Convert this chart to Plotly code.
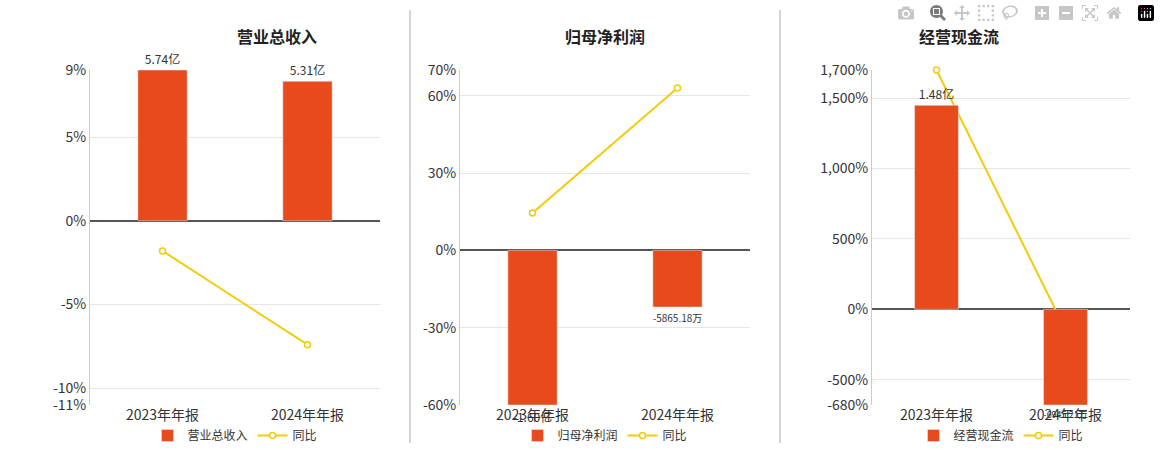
import plotly.graph_objects as go

cats = ["2023年年报", "2024年年报"]
titles = ["营业总收入", "归母净利润", "经营现金流"]
bar_vals = [[5.74, 5.31], [-1.60, -0.586518], [1.48, -0.694521]]  # 亿
bar_text = [["5.74亿", "5.31亿"], ["-1.60亿", "-5865.18万"], ["1.48亿", "-6945.21万"]]
yoy = [[-1.8, -7.4], [14.5, 63.0], [1700.0, -145.0]]
pct_ranges = [[-11, 9], [-60, 70], [-680, 1700]]
tickvals = [[-11, -10, -5, 0, 5, 9], [-60, -30, 0, 30, 60, 70], [-680, -500, 0, 500, 1000, 1500, 1700]]

BAR = "#E84A1B"
LINE = "#F2CC0C"
W, H = 1160, 450
xdom = [(90, 380), (460, 750), (872, 1130)]
ydom = [(450 - 405) / H, (450 - 70) / H]

fig = go.Figure()
lay = {}
for i in range(3):
    n = i + 1
    xa = "x" if n == 1 else f"x{n}"
    ya = "y" if n == 1 else f"y{2*n-1}"
    yb = f"y{2*n}"
    lg = "legend" if n == 1 else f"legend{n}"
    lo, hi = pct_ranges[i]
    bmax = max(bar_vals[i]); bmin = min(bar_vals[i])
    if bmax > 0 and (bmin >= 0 or bmax / hi >= bmin / lo):
        s = bmax / hi
    else:
        s = bmin / lo
    fig.add_trace(go.Bar(x=cats, y=bar_vals[i], name=titles[i], marker_color=BAR, width=0.34,
                         text=bar_text[i], textposition="outside", cliponaxis=False,
                         textfont=dict(size=12, color="#333"),
                         xaxis=xa, yaxis=yb, legend=lg))
    fig.add_trace(go.Scatter(x=cats, y=yoy[i], name="同比", mode="lines+markers",
                             line=dict(color=LINE, width=2),
                             marker=dict(size=6, color="white", line=dict(color=LINE, width=1.5)),
                             xaxis=xa, yaxis=ya, legend=lg, cliponaxis=False))
    d = [xdom[i][0] / W, xdom[i][1] / W]
    lay[f"xaxis{'' if n==1 else n}"] = dict(domain=d, anchor=ya, showgrid=False, automargin=False,
        tickfont=dict(size=14, color="#333"), showline=False, ticks="")
    lay[f"yaxis{'' if n==1 else 2*n-1}"] = dict(domain=ydom, anchor=xa, range=[lo, hi], automargin=False,
        tickmode="array", tickvals=tickvals[i], ticktext=[f"{v:,}%" for v in tickvals[i]],
        showgrid=True, gridcolor="#e6e6e6",
        zeroline=True, zerolinecolor="#555", zerolinewidth=1.5,
        showline=True, linecolor="#ccc", tickfont=dict(size=14, color="#333"))
    lay[f"yaxis{2*n}"] = dict(domain=ydom, anchor=xa, overlaying=ya, range=[lo * s, hi * s],
        visible=False, showgrid=False, zeroline=False, automargin=False)
    lay[lg] = dict(orientation="h", x=(d[0] + d[1]) / 2, xanchor="center", y=0.0,
        yanchor="bottom", font=dict(size=12, color="#333"), bgcolor="rgba(0,0,0,0)")
    fig.add_annotation(text=f"<b>{titles[i]}</b>", x=(d[0] + d[1]) / 2, y=1 - 22 / H,
        xref="paper", yref="paper", showarrow=False, font=dict(size=16, color="#222"))

for xp in (410, 780):
    fig.add_shape(type="line", xref="paper", yref="paper", x0=xp / W, x1=xp / W,
                  y0=1 - 443 / H, y1=1 - 10 / H, line=dict(color="#aaa", width=1))

fig.update_layout(**lay)
fig.update_layout(width=W, height=H, margin=dict(l=0, r=0, t=0, b=0, autoexpand=False),
                  plot_bgcolor="white", paper_bgcolor="white", barmode="overlay",
                  font=dict(family="Noto Sans CJK SC, DejaVu Sans"))
fig.write_html("out.html",
               post_script="document.body.style.margin='0';document.body.style.overflow='hidden';")
